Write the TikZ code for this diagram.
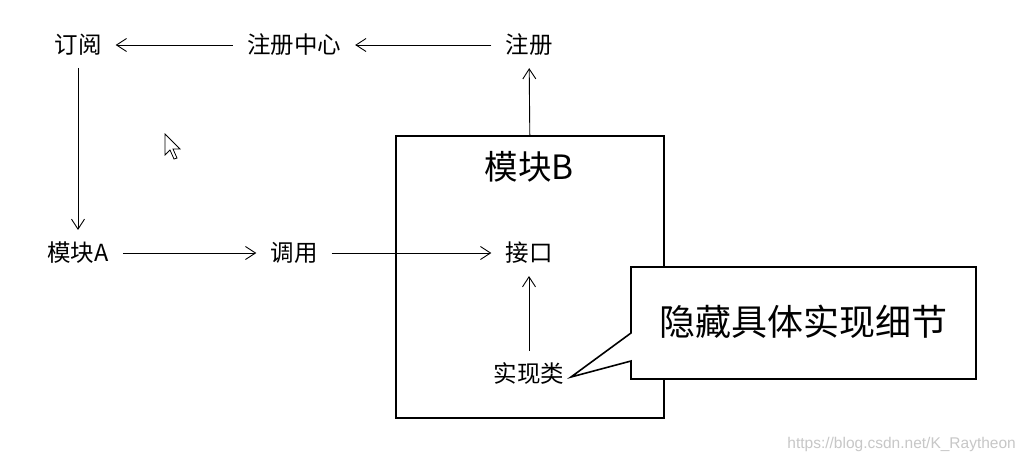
\documentclass[tikz,border=0pt]{standalone}
\usepackage{fontspec}
\setmainfont{Noto Sans CJK SC}
\newfontfamily\wmfont{Liberation Sans}
\usetikzlibrary{arrows.meta}
\tikzset{
  lbl/.style={inner xsep=14pt, inner ysep=12pt, font=\fontsize{23.5}{28}\selectfont},
  conn/.style={line width=0.9pt, -{Straight Barb[length=10pt,width=13pt]}},
}
\begin{document}
\begin{tikzpicture}[x=1pt,y=-1pt]
\useasboundingbox[fill=white] (0,0) rectangle (1024,464);
% module B box
\node[draw, line width=1.6pt, minimum width=268pt, minimum height=282pt, anchor=north west, inner sep=0pt] (boxB) at (395,135) {};
\node[font=\fontsize{33.5}{38}\selectfont, inner sep=0pt] (titleB) at (529,167) {模块B};
% labels
\node[lbl] (dingyue) at (78,45) {订阅};
\node[lbl] (center) at (294,45) {注册中心};
\node[lbl] (zhuce) at (529,45) {注册};
\node[lbl] (modA) at (78,253) {模块A};
\node[lbl] (diaoyong) at (294,253) {调用};
\node[lbl] (jiekou) at (529,253) {接口};
\node[lbl] (impl) at (529,374) {实现类};
% connectors
\draw[conn] (zhuce) -- (center);
\draw[conn] (center) -- (dingyue);
\draw[conn] (dingyue) -- (modA);
\draw[conn] (modA) -- (diaoyong);
\draw[conn] (diaoyong) -- (jiekou);
\draw[conn] (impl) -- (jiekou);
\draw[conn] (boxB.north) -- (zhuce);
% callout
\coordinate (tip) at (571,377);
\draw[line width=1.6pt, fill=white, line join=miter] (631,267) -- (976,267) -- (976,379) -- (631,379) -- (631,361) -- (tip) -- (631,333) -- cycle;
\node[font=\fontsize{36}{42}\selectfont, inner sep=0pt] (calltext) at (803,322) {隐藏具体实现细节};
% mouse cursor
\draw[line width=0.8pt, fill=white, line join=miter] (165,134) -- (165,155) -- (170,150) -- (174,159) -- (177,158) -- (173,149) -- (180,149) -- cycle;
% watermark
\node[font=\wmfont\fontsize{15.5}{18}\selectfont, text=black!22, anchor=east, inner sep=0pt] (wm) at (1016,444) {https://blog.csdn.net/K\_Raytheon};
\end{tikzpicture}
\end{document}
